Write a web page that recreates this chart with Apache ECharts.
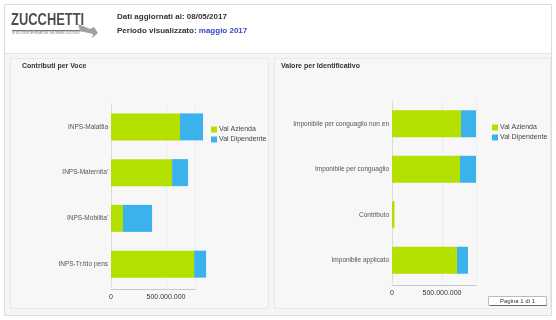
<!DOCTYPE html>
<html>
<head>
<meta charset="utf-8">
<script src="https://cdn.jsdelivr.net/npm/echarts@6/dist/echarts.min.js"></script>
<style>
  html, body { margin: 0; padding: 0; background: #ffffff; }
  #chart { width: 556px; height: 320px; }
</style>
</head>
<body>
<div id="chart"></div>
<script>
// left chart: Contributi per Voce
const vociCategories = ["INPS-Malattia", "INPS-Maternita'", "INPS-Mobilita'", "INPS-Tr.fdo pens"];
const vociAzienda = [627000000, 555000000, 109000000, 755000000];
const vociDipendente = [209000000, 145000000, 264000000, 109000000];

// right chart: Valore per Identificativo
const identCategories = ["Imponibile per conguaglio non en", "Imponibile per conguaglio", "Contributo", "Imponibile applicato"];
const identAzienda = [690000000, 680000000, 25000000, 650000000];
const identDipendente = [150000000, 160000000, 0, 110000000];

const seriesNames = ["Val Azienda", "Val Dipendente"];
const GREEN = "#b4e000";
const BLUE = "#3cb2ec";
const FONT = "'Liberation Sans', Arial, sans-serif";

function fmtDots(v) {
  return String(v).replace(/\B(?=(\d{3})+(?!\d))/g, ".");
}

function makeXAxis(idx, max) {
  return {
    type: "value",
    gridIndex: idx,
    min: 0,
    max: max,
    interval: 500000000,
    offset: 2,
    axisLine: { show: true, lineStyle: { color: "#c8c8c8", width: 1 } },
    axisTick: { show: false },
    splitLine: { show: true, lineStyle: { color: "#ececec" } },
    axisLabel: {
      showMaxLabel: false,
      color: "#333",
      fontSize: 7,
      fontFamily: FONT,
      margin: 5,
      formatter: fmtDots,
    },
  };
}

function makeYAxis(idx, cats) {
  return {
    type: "category",
    gridIndex: idx,
    data: cats,
    inverse: true,
    axisLine: { show: true, lineStyle: { color: "#dcdcdc" } },
    axisTick: { show: false },
    axisLabel: { color: "#555", fontSize: 6.5, fontFamily: FONT, margin: 3 },
  };
}

const chart = echarts.init(document.getElementById("chart"));

chart.setOption({
  animation: false,
  backgroundColor: "#ffffff",
  textStyle: { fontFamily: FONT },
  graphic: [
    // page frame and background
    { type: "rect", shape: { x: 4.5, y: 4.5, width: 547, height: 311 }, style: { fill: "#f5f5f5", stroke: "#dddddd" }, z: -10 },
    { type: "rect", shape: { x: 5, y: 5, width: 546, height: 48 }, style: { fill: "#ffffff" }, z: -9 },
    { type: "line", shape: { x1: 5, y1: 53.5, x2: 551, y2: 53.5 }, style: { stroke: "#e6e6e6" }, z: -9 },
    // panels
    { type: "rect", shape: { x: 10.5, y: 58.5, width: 258, height: 250 }, style: { fill: "#f7f7f7", stroke: "#e8e8e8" }, z: -8 },
    { type: "rect", shape: { x: 274.5, y: 58.5, width: 276, height: 250 }, style: { fill: "#f7f7f7", stroke: "#e8e8e8" }, z: -8 },
    // logo
    { type: "text", x: 11, y: 12, scaleX: 0.76, style: { text: "ZUCCHETTI", fontSize: 17, fontWeight: "bold", fill: "#505050", fontFamily: FONT } },
    { type: "rect", shape: { x: 12, y: 30, width: 72, height: 1.2 }, style: { fill: "#777" } },
    { type: "text", x: 12, y: 32, scaleX: 0.95, style: { text: "LE SOLUZIONI INFORMATICHE CHE CREANO SUCCESSO", fontSize: 2.6, fill: "#777" } },
    { type: "polygon", shape: { points: [[78, 24], [90, 29], [94, 27], [98, 33], [92, 38], [93, 34], [80, 31]] }, style: { fill: "#a0a0a0" } },
    // header info
    { type: "text", left: 117, top: 13, style: { text: "Dati aggiornati al: 08/05/2017", fontSize: 8, fontWeight: "bold", fill: "#333" } },
    { type: "text", left: 117, top: 27, style: { rich: { a: { fontSize: 8, fontWeight: "bold", fill: "#333" }, b: { fontSize: 8, fontWeight: "bold", fill: "#3a46c8" } }, text: "{a|Periodo visualizzato: }{b|maggio 2017}" } },
    // panel titles
    { type: "text", left: 22, top: 63, style: { text: "Contributi per Voce", fontSize: 7, fontWeight: "bold", fill: "#333" } },
    { type: "text", left: 281, top: 63, style: { text: "Valore per Identificativo", fontSize: 7, fontWeight: "bold", fill: "#333" } },
    // page button
    { type: "rect", shape: { x: 488.5, y: 296.5, width: 58, height: 9 }, style: { fill: "#ffffff", stroke: "#bbbbbb" } },
    { type: "line", shape: { x1: 490, y1: 305.5, x2: 547, y2: 305.5 }, style: { stroke: "#666", lineWidth: 1 } },
    { type: "text", x: 517.5, y: 301, style: { text: "Pagina 1 di 1", fontSize: 6, fill: "#333", align: "center", verticalAlign: "middle" } },
  ],
  legend: [
    {
      data: seriesNames,
      orient: "vertical",
      left: 206,
      top: 121,
      itemWidth: 6,
      itemHeight: 6,
      itemGap: 3,
      icon: "rect",
      textStyle: { fontSize: 7, color: "#444", padding: [0, 0, 0, -3] },
    },
    {
      data: seriesNames,
      orient: "vertical",
      left: 487,
      top: 119,
      itemWidth: 6,
      itemHeight: 6,
      itemGap: 3,
      icon: "rect",
      textStyle: { fontSize: 7, color: "#444", padding: [0, 0, 0, -3] },
    },
  ],
  grid: [
    { left: 111, top: 104, width: 84, height: 183 },
    { left: 392, top: 101, width: 84, height: 182 },
  ],
  xAxis: [makeXAxis(0, 763000000), makeXAxis(1, 840000000)],
  yAxis: [makeYAxis(0, vociCategories), makeYAxis(1, identCategories)],
  series: [
    { name: seriesNames[0], type: "bar", xAxisIndex: 0, yAxisIndex: 0, stack: "voce", barWidth: 27, clip: false, itemStyle: { color: GREEN }, data: vociAzienda },
    { name: seriesNames[1], type: "bar", xAxisIndex: 0, yAxisIndex: 0, stack: "voce", barWidth: 27, clip: false, itemStyle: { color: BLUE }, data: vociDipendente },
    { name: seriesNames[0], type: "bar", xAxisIndex: 1, yAxisIndex: 1, stack: "ident", barWidth: 27, clip: false, itemStyle: { color: GREEN }, data: identAzienda },
    { name: seriesNames[1], type: "bar", xAxisIndex: 1, yAxisIndex: 1, stack: "ident", barWidth: 27, clip: false, itemStyle: { color: BLUE }, data: identDipendente },
  ],
});
</script>
</body>
</html>
